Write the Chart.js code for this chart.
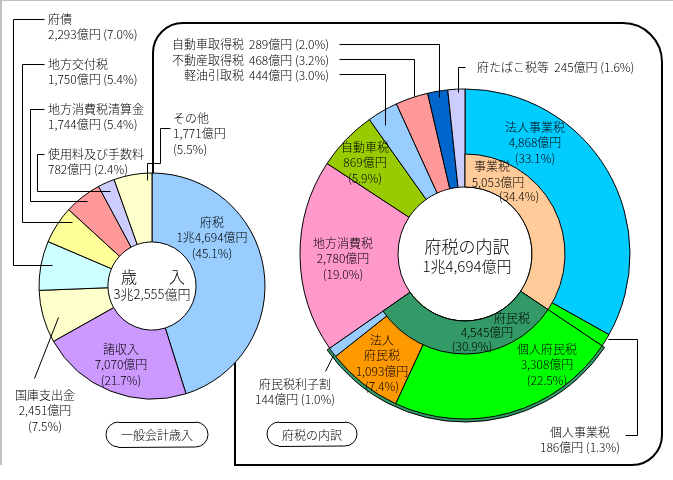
<!DOCTYPE html>
<html>
<head>
<meta charset="utf-8">
<script src="https://cdn.jsdelivr.net/npm/chart.js@4"></script>
<style>
  body { margin: 0; background: #fff; }
  #wrap { position: relative; width: 673px; height: 480px; overflow: hidden; }
  #wrap canvas { position: absolute; left: 0; top: 0; }
</style>
</head>
<body>
<div id="wrap">
  <canvas id="left" width="673" height="480"></canvas>
  <canvas id="rim" width="673" height="480"></canvas>
  <canvas id="outer" width="673" height="480"></canvas>
  <canvas id="inner" width="673" height="480"></canvas>
</div>
<script>
// 一般会計歳入 (億円)
const leftLabels = ['府税', '諸収入', '国庫支出金', '府債', '地方交付税', '地方消費税清算金', '使用料及び手数料', 'その他'];
const leftValues = [14694, 7070, 2451, 2293, 1750, 1744, 782, 1771];
const leftPct = [45.1, 21.7, 7.5, 7.0, 5.4, 5.4, 2.4, 5.5];

// 府税の内訳 (億円)
const taxLabels = ['法人事業税', '個人事業税', '個人府民税', '法人府民税', '府民税利子割', '地方消費税', '自動車税', '軽油引取税', '不動産取得税', '自動車取得税', '府たばこ税等'];
const taxValues = [4868, 186, 3308, 1093, 144, 2780, 869, 444, 468, 289, 245];
const taxPct = [33.1, 1.3, 22.5, 7.4, 1.0, 19.0, 5.9, 3.0, 3.2, 2.0, 1.6];

// 内側リング（事業税・府民税）
const groupLabels = ['事業税', '府民税'];
const groupValues = [5053, 4545];
const groupPct = [34.4, 30.9];

const leftColors = ['#99CCFF', '#CC99FF', '#FFFFCC', '#CCFFFF', '#FFFF99', '#FF9999', '#CCCCFF', '#FFFFCC'];
const taxColors = ['#00CCFF', '#00FF00', '#00FF00', '#FF9900', '#99CCFF', '#FF99CC', '#99CC00', '#99CCFF', '#FF9999', '#0066CC', '#CCCCFF'];
const groupColors = ['#FFCC99', '#339966'];
const NONE = 'rgba(0,0,0,0)';

const FONT = '"Noto Sans CJK JP", "Noto Sans", sans-serif';
const sum = a => a.reduce((s, v) => s + v, 0);
const oku = v => v >= 10000
  ? Math.floor(v / 10000) + '兆' + (v % 10000).toLocaleString('en-US') + '億円'
  : v.toLocaleString('en-US') + '億円';
const pct = p => '(' + p.toFixed(1) + '%)';

const taxTotal = sum(taxValues);
const restValue = taxTotal - sum(groupValues);

// label placement
const leftLayout = [
  { x: 212, y: 222, kind: 'stack' },
  { x: 121, y: 349, kind: 'stack' },
  { x: 45, y: 395, kind: 'stack', lead: [[34, 378], [58, 317]] },
  { x: 48, y: 19, kind: 'pair', align: 'left', lead: [[44, 19], [13, 19], [13, 265], [52, 265]] },
  { x: 48, y: 64, kind: 'pair', align: 'left', lead: [[44, 64], [22, 64], [22, 222], [72, 222]] },
  { x: 48, y: 109, kind: 'pair', align: 'left', lead: [[44, 109], [30, 109], [30, 201], [87, 201]] },
  { x: 48, y: 154, kind: 'pair', align: 'left', lead: [[44, 154], [37, 154], [37, 191], [110, 191]] },
  { x: 173, y: 118, kind: 'stack', align: 'left', lead: [[170, 128], [160, 128], [160, 163], [147, 163], [147, 180]] }
];
const taxLayout = [
  { x: 535, y: 127, kind: 'stack' },
  { x: 580, y: 432, kind: 'pair', lead: [[625, 435], [637, 435], [637, 339], [608, 339]] },
  { x: 547, y: 349, kind: 'stack' },
  { x: 382, y: 340, kind: 'stack', name: ['法人', '府民税'] },
  { x: 295, y: 384, kind: 'pair', lead: [[325, 371], [333, 355]] },
  { x: 343, y: 243, kind: 'stack' },
  { x: 365, y: 147, kind: 'stack' },
  { x: 244, y: 75, kind: 'row', lead: [[339, 74], [385, 74], [385, 125]] },
  { x: 244, y: 60, kind: 'row', lead: [[339, 59], [414, 59], [414, 96]] },
  { x: 244, y: 44, kind: 'row', lead: [[339, 44], [439, 44], [439, 97]] },
  { x: 477, y: 67, kind: 'inline', lead: [[465, 67], [458, 67], [458, 92]] }
];
const groupLayout = [
  [[492, 166], [498, 182], [519, 196]],
  [[512, 318], [487, 332], [472, 346]]
];

function txt(ctx, s, x, y, align, size) {
  ctx.font = '300 ' + (size || 12) + 'px ' + FONT;
  ctx.textAlign = align || 'center';
  ctx.textBaseline = 'middle';
  ctx.fillStyle = '#000';
  ctx.fillText(s, x, y);
}

function poly(ctx, pts, w) {
  ctx.beginPath();
  ctx.lineWidth = w || 1;
  ctx.strokeStyle = '#000';
  pts.forEach((p, i) => i ? ctx.lineTo(p[0] + .5, p[1] + .5) : ctx.moveTo(p[0] + .5, p[1] + .5));
  ctx.stroke();
}

function pill(ctx, x1, y1, x2, y2, label) {
  const r = (y2 - y1) / 2;
  ctx.beginPath();
  ctx.lineWidth = 1;
  ctx.strokeStyle = '#000';
  ctx.moveTo(x1 + r, y1 + .5);
  ctx.lineTo(x2 - r, y1 + .5);
  ctx.arc(x2 - r, y1 + r, r, -Math.PI / 2, Math.PI / 2);
  ctx.lineTo(x1 + r, y2 + .5);
  ctx.arc(x1 + r, y1 + r, r, Math.PI / 2, Math.PI * 1.5);
  ctx.stroke();
  txt(ctx, label, (x1 + x2) / 2, (y1 + y2) / 2 + 1, 'center', 12);
}

function drawLabel(ctx, L, name, value, p) {
  const lh = 15.5;
  const a = L.align || 'center';
  if (L.kind === 'stack') {
    const lines = [].concat(L.name || name, oku(value), pct(p));
    lines.forEach((s, i) => txt(ctx, s, L.x, L.y + i * lh, a));
  } else if (L.kind === 'pair') {
    txt(ctx, name, L.x, L.y, a);
    txt(ctx, oku(value) + ' ' + pct(p), L.x, L.y + lh, a);
  } else if (L.kind === 'row') {
    txt(ctx, name, L.x, L.y, 'right');
    txt(ctx, oku(value) + ' ' + pct(p), L.x + 5, L.y, 'left');
  } else {
    txt(ctx, name + '  ' + oku(value) + ' ' + pct(p), L.x, L.y, 'left');
  }
  if (L.lead) poly(ctx, L.lead, 1);
}

// frame behind the left doughnut
const framePlugin = {
  id: 'frame',
  beforeDatasetsDraw(chart) {
    const ctx = chart.ctx;
    ctx.save();
    ctx.fillStyle = '#C0C0C0';
    ctx.fillRect(0, 0, 673, 1);
    ctx.fillRect(0, 0, 2, 465);
    ctx.beginPath();
    ctx.lineWidth = 2;
    ctx.strokeStyle = '#000';
    ctx.moveTo(153, 200);
    ctx.arcTo(153, 23, 183, 23, 30);
    ctx.arcTo(662, 23, 662, 62, 39);
    ctx.arcTo(662, 465, 632, 465, 30);
    ctx.lineTo(235, 465);
    ctx.lineTo(235, 340);
    ctx.lineTo(225, 250);
    ctx.closePath();
    ctx.stroke();
    ctx.restore();
  }
};

// all text and leader lines on top
const labelPlugin = {
  id: 'labels',
  afterDraw(chart) {
    const ctx = chart.ctx;
    ctx.save();
    leftLabels.forEach((n, i) => drawLabel(ctx, leftLayout[i], n, leftValues[i], leftPct[i]));
    taxLabels.forEach((n, i) => drawLabel(ctx, taxLayout[i], n, taxValues[i], taxPct[i]));
    groupLabels.forEach((n, i) => {
      const pos = groupLayout[i];
      [n, oku(groupValues[i]), pct(groupPct[i])].forEach((s, k) => txt(ctx, s, pos[k][0], pos[k][1], 'center', 12));
    });
    txt(ctx, '歳　　入', 153, 277, 'center', 16);
    txt(ctx, oku(sum(leftValues)), 152, 294, 'center', 13);
    txt(ctx, '府税の内訳', 467, 247, 'center', 17);
    txt(ctx, oku(taxTotal), 467, 266, 'center', 15);
    pill(ctx, 106, 422, 208, 447, '一般会計歳入');
    pill(ctx, 267, 422, 357, 446, '府税の内訳');
    ctx.restore();
  }
};

function ring(id, labels, values, colors, widths, radius, cutout, padding, plugins) {
  return new Chart(document.getElementById(id), {
    type: 'doughnut',
    data: {
      labels: labels,
      datasets: [{
        data: values,
        backgroundColor: colors,
        borderColor: '#000',
        borderWidth: widths
      }]
    },
    options: {
      responsive: false,
      animation: false,
      events: [],
      radius: radius,
      cutout: cutout,
      layout: { padding: padding },
      plugins: { legend: { display: false }, tooltip: { enabled: false } }
    },
    plugins: plugins || []
  });
}

const rightPad = { left: 285, right: 28, top: 74, bottom: 46 };

ring('left', leftLabels, leftValues, leftColors, 1, 113, '39%',
  { left: 32, right: 401, top: 166, bottom: 74 }, [framePlugin]);

// dark green rim of 府民税
ring('rim', [...groupLabels, 'その他'], [...groupValues, restValue],
  [NONE, groupColors[1], NONE], [0, 1, 0], 168, '39.9%', rightPad);

ring('outer', taxLabels, taxValues, taxColors, 1, 165, '40.6%', rightPad);

ring('inner', [...groupLabels, 'その他'], [...groupValues, restValue],
  [...groupColors, NONE], [1, 1, 0], 100, '67%', rightPad, [labelPlugin]);
</script>
</body>
</html>
